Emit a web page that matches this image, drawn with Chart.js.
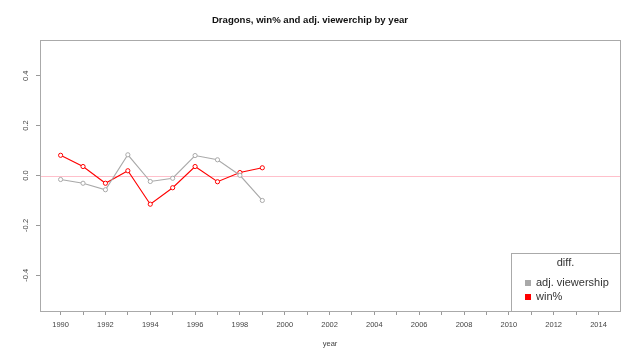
<!DOCTYPE html>
<html>
<head>
<meta charset="utf-8">
<script src="https://cdn.jsdelivr.net/npm/chart.js@4/dist/chart.umd.min.js"></script>
<style>
  html, body { margin: 0; padding: 0; background: #fff; }
</style>
</head>
<body>
<canvas id="grafico" width="640" height="360"></canvas>
<script>
// dados
const years = [1990, 1991, 1992, 1993, 1994, 1995, 1996, 1997, 1998, 1999];
const adjViewership = [-0.016, -0.031, -0.057, 0.083, -0.024, -0.011, 0.080, 0.063, 0.001, -0.100];
const winPct = [0.081, 0.036, -0.031, 0.019, -0.115, -0.049, 0.036, -0.025, 0.012, 0.031];
const xTicks = [1990, 1991, 1992, 1993, 1994, 1995, 1996, 1997, 1998, 1999, 2000, 2001, 2002,
  2003, 2004, 2005, 2006, 2007, 2008, 2009, 2010, 2011, 2012, 2013, 2014];
const yTicks = [-0.4, -0.2, 0.0, 0.2, 0.4];
const seriesNames = ['adj. viewership', 'win%'];
const seriesColors = ['#a9a9a9', '#ff0000'];
const legendTitle = 'diff.';

function pontos(vals) {
  return years.map(function (y, i) { return { x: y, y: vals[i] }; });
}

// caixa, linha do zero, rotulos do eixo y e legenda no estilo do R
const estiloR = {
  id: 'estiloR',
  beforeDatasetsDraw: function (chart) {
    const ctx = chart.ctx;
    const a = chart.chartArea;
    const y0 = chart.scales.y.getPixelForValue(0);
    ctx.save();
    ctx.strokeStyle = '#ffc0cb';
    ctx.lineWidth = 1;
    ctx.beginPath();
    ctx.moveTo(a.left, Math.round(y0) + 0.5);
    ctx.lineTo(a.right, Math.round(y0) + 0.5);
    ctx.stroke();
    ctx.restore();
  },
  afterDraw: function (chart) {
    const ctx = chart.ctx;
    const a = chart.chartArea;
    const ys = chart.scales.y;
    ctx.save();
    ctx.strokeStyle = '#aaaaaa';
    ctx.lineWidth = 1;
    ctx.strokeRect(Math.round(a.left) + 0.5, Math.round(a.top) + 0.5,
      Math.round(a.right - a.left), Math.round(a.bottom - a.top));

    // rotulos do y girados
    ctx.fillStyle = '#444';
    ctx.font = '7.5px "Liberation Sans", Arial, sans-serif';
    ctx.textAlign = 'center';
    ctx.textBaseline = 'middle';
    ys.ticks.forEach(function (t) {
      const py = ys.getPixelForValue(t.value);
      ctx.save();
      ctx.translate(26, py);
      ctx.rotate(-Math.PI / 2);
      ctx.fillText(t.value.toFixed(1), 0, 0);
      ctx.restore();
    });

    // legenda
    const lx = 511, ly = 253;
    const lw = Math.round(a.right) - lx, lh = Math.round(a.bottom) - ly;
    ctx.fillStyle = '#fff';
    ctx.fillRect(lx + 0.5, ly + 0.5, lw, lh);
    ctx.strokeStyle = '#aaaaaa';
    ctx.strokeRect(lx + 0.5, ly + 0.5, lw, lh);
    ctx.font = '11px "Liberation Sans", Arial, sans-serif';
    ctx.fillStyle = '#333';
    ctx.textAlign = 'center';
    ctx.fillText(legendTitle, lx + lw / 2, ly + 10);
    ctx.textAlign = 'left';
    chart.data.datasets.forEach(function (ds, i) {
      const ry = ly + 30 + i * 14;
      ctx.fillStyle = ds.borderColor;
      ctx.fillRect(525, ry - 3, 6, 6);
      ctx.fillStyle = '#333';
      ctx.fillText(ds.label, 536, ry);
    });
    ctx.restore();
  }
};

const ctx = document.getElementById('grafico').getContext('2d');
const meuGrafico = new Chart(ctx, {
  type: 'line',
  data: {
    datasets: [
      {
        label: seriesNames[0],
        data: pontos(adjViewership),
        borderColor: seriesColors[0],
        backgroundColor: '#fff',
        borderWidth: 1.1,
        pointRadius: 2.1,
        pointBorderWidth: 1,
        pointBackgroundColor: '#fff',
        pointBorderColor: seriesColors[0],
        tension: 0
      },
      {
        label: seriesNames[1],
        data: pontos(winPct),
        borderColor: seriesColors[1],
        backgroundColor: '#fff',
        borderWidth: 1.1,
        pointRadius: 2.1,
        pointBorderWidth: 1,
        pointBackgroundColor: '#fff',
        pointBorderColor: seriesColors[1],
        tension: 0
      }
    ]
  },
  options: {
    responsive: false,
    animation: false,
    devicePixelRatio: 1,
    layout: { padding: { left: 0, right: 20, top: 0, bottom: 0 } },
    plugins: {
      legend: { display: false },
      tooltip: { enabled: false },
      title: {
        display: true,
        text: 'Dragons, win% and adj. viewerchip by year',
        color: '#111',
        font: { family: '"Liberation Sans", Arial, sans-serif', size: 9.6, weight: 'bold' },
        padding: { top: 15, bottom: 13.5 }
      }
    },
    scales: {
      x: {
        type: 'linear',
        min: 1989.08,
        max: 2014.96,
        afterBuildTicks: function (scale) {
          scale.ticks = xTicks.map(function (v) { return { value: v }; });
        },
        afterFit: function (scale) { scale.height = 49; },
        border: { display: false },
        grid: { drawOnChartArea: false, drawTicks: true, tickLength: 4, color: '#999' },
        ticks: {
          autoSkip: false,
          maxRotation: 0,
          padding: 5,
          color: '#444',
          font: { family: '"Liberation Sans", Arial, sans-serif', size: 7.5 },
          callback: function (v) { return v % 2 === 0 ? String(v) : ''; }
        },
        title: {
          display: true,
          text: 'year',
          color: '#444',
          font: { family: '"Liberation Sans", Arial, sans-serif', size: 7.5 },
          padding: { top: 0, bottom: 12 }
        }
      },
      y: {
        min: -0.543,
        max: 0.543,
        afterBuildTicks: function (scale) {
          scale.ticks = yTicks.map(function (v) { return { value: v }; });
        },
        afterFit: function (scale) { scale.width = 40; },
        border: { display: false },
        grid: { drawOnChartArea: false, drawTicks: true, tickLength: 4, color: '#999' },
        ticks: { display: false }
      }
    }
  },
  plugins: [estiloR]
});
</script>
</body>
</html>
